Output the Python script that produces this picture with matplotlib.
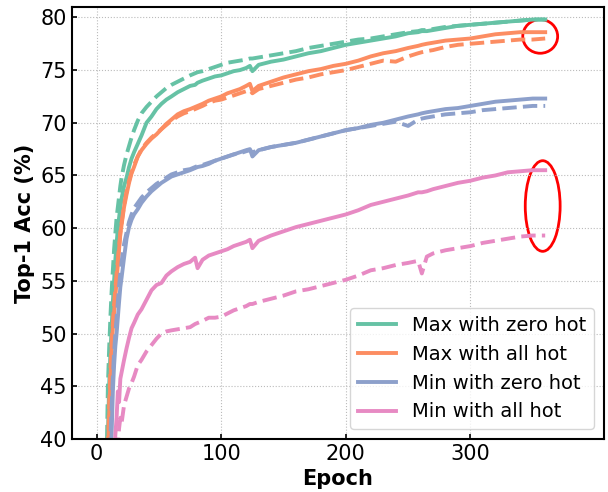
import matplotlib
matplotlib.use("Agg")
import matplotlib.pyplot as plt
from matplotlib.patches import Ellipse

epochs = [8, 9, 10, 11, 12, 13, 14, 15, 16, 17, 18, 19, 20, 22, 24, 26, 28, 30,
          33, 36, 40, 44, 48, 52, 56, 60, 65, 70, 75, 79, 81, 85, 90, 95, 100,
          105, 110, 115, 120, 123, 125, 130, 140, 150, 160, 170, 180, 190, 200,
          210, 220, 230, 240, 250, 258, 261, 265, 270, 280, 290, 300, 310, 320,
          330, 340, 350, 360]

# Max with zero hot
max_zero_solid = [36, 40, 45, 48, 50.5, 53, 55, 57, 58.5, 60, 61, 62, 62.8, 64, 64.8, 65.8, 66.6, 67.2,
                  68.0, 68.8, 70.0, 70.6, 71.3, 71.8, 72.2, 72.5, 72.9, 73.2, 73.5, 73.6, 73.8, 74.0, 74.2, 74.4, 74.5,
                  74.7, 74.9, 75.0, 75.2, 75.4, 74.9, 75.5, 75.8, 76.0, 76.3, 76.6, 76.8, 77.1, 77.4,
                  77.6, 77.8, 78.0, 78.2, 78.5, 78.6, 78.7, 78.7, 78.8, 79.0, 79.2, 79.3, 79.4, 79.5,
                  79.6, 79.7, 79.8, 79.8]
max_zero_dash = [38, 45, 48.5, 51.5, 54, 56, 58, 59.5, 61, 62, 63, 64, 64.8, 66, 67, 67.8, 68.6, 69.3,
                 70.2, 70.9, 71.5, 72.0, 72.5, 72.9, 73.3, 73.6, 73.9, 74.2, 74.5, 74.7, 74.8, 74.9, 75.1, 75.3, 75.5,
                 75.7, 75.8, 75.9, 76.0, 76.1, 76.1, 76.2, 76.4, 76.6, 76.8, 77.1, 77.3, 77.5, 77.7,
                 77.9, 78.0, 78.2, 78.4, 78.6, 78.7, 78.8, 78.8, 78.9, 79.1, 79.2, 79.3, 79.4, 79.5,
                 79.6, 79.7, 79.8, 79.8]

# Max with all hot
max_all_solid = [34, 38, 42, 45.5, 48.5, 50.5, 52, 53.5, 55, 56.5, 58, 59.5, 60.3, 62, 63.2, 64.3, 65.2, 65.8,
                 66.8, 67.4, 68.0, 68.5, 68.9, 69.4, 69.9, 70.3, 70.8, 71.1, 71.3, 71.5, 71.6, 71.8, 72.1, 72.3, 72.5,
                 72.8, 73.0, 73.2, 73.5, 73.7, 73.0, 73.5, 73.9, 74.3, 74.6, 74.9, 75.1, 75.4, 75.6,
                 75.9, 76.3, 76.6, 76.8, 77.1, 77.3, 77.4, 77.5, 77.6, 77.8, 77.9, 78.0, 78.2, 78.4,
                 78.5, 78.6, 78.6, 78.6]
max_all_dash = [35, 39, 43, 46.5, 49, 51, 52.8, 54.3, 55.7, 57, 58.3, 59.5, 60.5, 62.2, 63.5, 64.5, 65.3, 66.0,
                66.8, 67.5, 68.1, 68.6, 69.0, 69.4, 69.8, 70.2, 70.6, 70.9, 71.1, 71.3, 71.4, 71.6, 71.9, 72.1, 72.2,
                72.4, 72.6, 72.8, 73.0, 73.1, 72.8, 73.2, 73.5, 73.8, 74.1, 74.3, 74.6, 74.8, 75.0,
                75.3, 75.6, 75.9, 75.8, 76.3, 76.6, 76.7, 76.8, 76.9, 77.2, 77.4, 77.5, 77.6, 77.7,
                77.8, 77.9, 77.9, 78.0]

# Min with zero hot
min_zero_solid = [30, 33, 36, 38.5, 40.5, 44.5, 47, 48.8, 50, 51.5, 53, 54.4, 55.3, 57.2, 59, 60.1, 60.8, 61.3,
                  61.8, 62.4, 63.0, 63.5, 63.9, 64.3, 64.6, 64.9, 65.1, 65.3, 65.5, 65.7, 65.8, 65.9, 66.1, 66.4, 66.6,
                  66.8, 67.0, 67.2, 67.4, 67.5, 66.8, 67.4, 67.7, 67.9, 68.1, 68.4, 68.7, 69.0, 69.3,
                  69.5, 69.8, 70.0, 70.3, 70.6, 70.8, 70.9, 71.0, 71.1, 71.3, 71.4, 71.6, 71.8, 72.0,
                  72.1, 72.2, 72.3, 72.3]
min_zero_dash = [31, 34, 37, 40, 43, 46, 48.3, 50, 51.5, 53, 54.5, 55.7, 56.8, 58.5, 59.6, 60.6, 61.3, 61.9,
                 62.4, 62.9, 63.4, 63.8, 64.2, 64.5, 64.8, 65.1, 65.3, 65.5, 65.6, 65.8, 65.9, 66.0, 66.2, 66.4, 66.6,
                 66.8, 67.0, 67.1, 67.3, 67.4, 67.2, 67.4, 67.7, 67.9, 68.1, 68.4, 68.7, 69.0, 69.3,
                 69.5, 69.7, 69.9, 70.1, 69.7, 70.3, 70.4, 70.5, 70.6, 70.8, 70.9, 71.0, 71.2, 71.3,
                 71.4, 71.5, 71.6, 71.6]

# Min with all hot
min_all_solid = [25, 28, 30, 32, 34, 36, 38, 40.4, 42, 44.5, 43.5, 45.7, 46.3, 47.5, 48.6, 49.6, 50.5, 51.0,
                 51.8, 52.3, 53.2, 54.1, 54.6, 54.8, 55.5, 55.9, 56.3, 56.6, 56.8, 57.2, 56.2, 57.0, 57.4, 57.6, 57.8,
                 58.0, 58.3, 58.5, 58.7, 58.9, 58.1, 58.8, 59.3, 59.7, 60.1, 60.4, 60.7, 61.0, 61.3,
                 61.7, 62.2, 62.5, 62.8, 63.1, 63.4, 63.4, 63.5, 63.7, 64.0, 64.3, 64.5, 64.8, 65.0,
                 65.3, 65.4, 65.5, 65.5]
min_all_dash = [20, 23, 26, 28, 30, 32, 34, 36, 38, 39.5, 41, 42, 41.5, 43.2, 44, 44.8, 45.3, 45.9,
                47.0, 47.5, 48.3, 48.9, 49.5, 50.0, 50.2, 50.3, 50.4, 50.5, 50.6, 50.9, 51.0, 51.2, 51.5, 51.5, 51.6,
                51.9, 52.2, 52.4, 52.6, 52.8, 52.8, 53.0, 53.3, 53.6, 54.0, 54.2, 54.5, 54.8, 55.1,
                55.5, 56.0, 56.2, 56.5, 56.7, 56.9, 55.7, 57.3, 57.6, 57.9, 58.1, 58.3, 58.6, 58.8,
                59.0, 59.2, 59.3, 59.3]

labels = ["Max with zero hot", "Max with all hot", "Min with zero hot", "Min with all hot"]
colors = ["#66c2a5", "#fc8d62", "#8da0cb", "#e78ac3"]
solid = [max_zero_solid, max_all_solid, min_zero_solid, min_all_solid]
dashed = [max_zero_dash, max_all_dash, min_zero_dash, min_all_dash]

fig = plt.figure(figsize=(6.08, 4.92), dpi=100)
ax = fig.add_axes([0.118, 0.108, 0.875, 0.878])

for lab, c, s, d in zip(labels, colors, solid, dashed):
    ax.plot(epochs, s, color=c, lw=2.8, label=lab)
    ax.plot(epochs, d, color=c, lw=2.8, ls="--")

ax.add_patch(Ellipse((356, 78.2), 28, 3.2, fill=False, ec="red", lw=2))
ax.add_patch(Ellipse((358, 62.1), 28, 8.6, fill=False, ec="red", lw=2))

ax.set_xlim(-20, 407)
ax.set_ylim(40, 81)
ax.set_xticks([0, 100, 200, 300])
ax.set_yticks([40, 45, 50, 55, 60, 65, 70, 75, 80])
ax.grid(True, ls=":", color="#bbbbbb", lw=0.8)
ax.tick_params(direction="in", labelsize=15, width=1.2)
for sp in ax.spines.values():
    sp.set_linewidth(1.5)
ax.set_xlabel("Epoch", fontsize=15, fontweight="bold")
ax.set_ylabel("Top-1 Acc (%)", fontsize=15, fontweight="bold")
ax.legend(loc="lower right", fontsize=14)

fig.savefig("out.png", dpi=100)
